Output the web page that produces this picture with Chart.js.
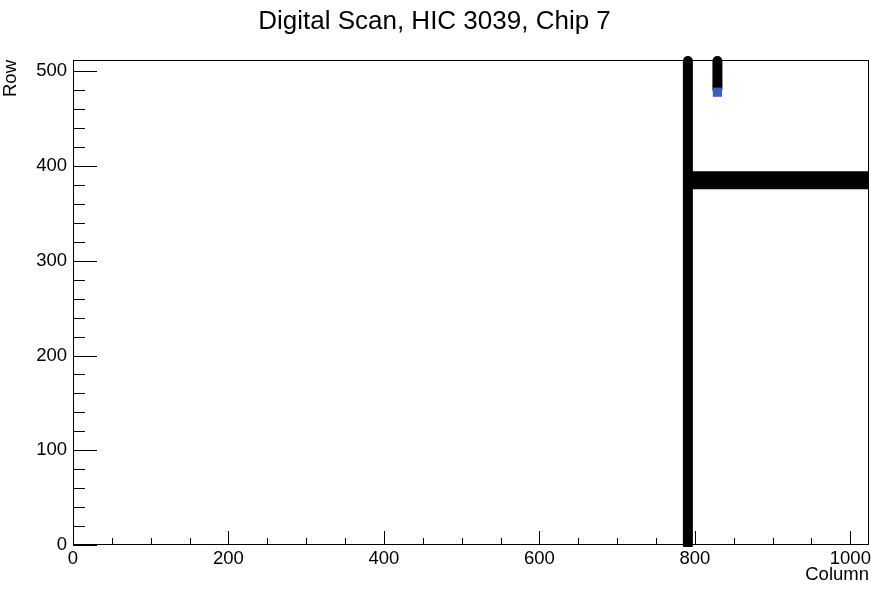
<!DOCTYPE html>
<html>
<head>
<meta charset="utf-8">
<script src="https://cdn.jsdelivr.net/npm/chart.js@4/dist/chart.umd.min.js"></script>
<style>
  html, body { margin: 0; padding: 0; background: #fff; }
  canvas { display: block; }
</style>
</head>
<body>
<canvas id="scan" width="871" height="589"></canvas>
<script>
// Chip geometry
const colRange = [0, 1024];
const rowRange = [0, 512];
const colMajorTicks = [0, 200, 400, 600, 800, 1000];
const rowMajorTicks = [0, 100, 200, 300, 400, 500];

// Hit pixels (runs of firing pixels)
const stuckColumn = [791, 791];        // whole column fires
const stuckColumnRows = [0, 511];
const shortColumn = [829, 829];        // top part of a second column
const shortColumnRows = [481, 511];
const stuckRowCols = [791, 1024];      // band of rows to the right edge
const stuckRow = [385, 385];
const oddPixelCol = [829];             // single pixel with a lower count
const oddPixelRow = [478];

const FONT = '"Liberation Sans", Arial, Helvetica, sans-serif';

function pts(xs, ys) {
    return xs.map((x, i) => ({ x: x, y: ys[i] }));
}

// the last tick label may stick out a bit, like in ROOT, so no extra padding
const noPad = s => { s.getPadding = () => ({ left: 0, right: 0, top: 0, bottom: 0 }); };

// ROOT-style frame with ticks pointing inwards
const frameTicks = {
    id: 'frameTicks',
    beforeDatasetsDraw(chart) {
        const { ctx, chartArea: a, scales } = chart;
        ctx.save();
        ctx.strokeStyle = '#000';
        ctx.lineWidth = 1;
        ctx.strokeRect(a.left + 0.5, a.top + 0.5, a.right - a.left - 1, a.bottom - a.top - 1);
        ctx.beginPath();
        for (let v = 0; v <= 1000; v += 50) {
            const x = Math.round(scales.x.getPixelForValue(v)) + 0.5;
            const len = v % 200 === 0 ? 14 : 7;
            ctx.moveTo(x, a.bottom);
            ctx.lineTo(x, a.bottom - len);
        }
        for (let v = 0; v <= 500; v += 20) {
            const y = Math.round(scales.y.getPixelForValue(v)) + 0.5;
            const len = v % 100 === 0 ? 24 : 12;
            ctx.moveTo(a.left, y);
            ctx.lineTo(a.left + len, y);
        }
        ctx.stroke();
        ctx.restore();
    }
};

new Chart(document.getElementById('scan').getContext('2d'), {
    type: 'scatter',
    plugins: [frameTicks],
    data: {
        datasets: [
            {
                data: pts(oddPixelCol, oddPixelRow),
                pointStyle: 'rect',
                pointRadius: 6.5,
                borderWidth: 0,
                backgroundColor: '#3f5cbf',
                order: 0,
                clip: false
            },
            {
                data: pts(stuckColumn, stuckColumnRows),
                showLine: true,
                borderColor: '#000',
                borderWidth: 10,
                borderCapStyle: 'round',
                pointRadius: 0,
                order: 1,
                clip: { left: false, top: false, right: false, bottom: 2 }
            },
            {
                data: pts(shortColumn, shortColumnRows),
                showLine: true,
                borderColor: '#000',
                borderWidth: 10,
                borderCapStyle: 'round',
                pointRadius: 0,
                order: 1,
                clip: false
            },
            {
                data: pts(stuckRowCols, stuckRow),
                showLine: true,
                borderColor: '#000',
                borderWidth: 18,
                borderCapStyle: 'butt',
                pointRadius: 0,
                order: 1,
                clip: 0
            }
        ]
    },
    options: {
        responsive: false,
        animation: false,
        devicePixelRatio: 1,
        layout: { autoPadding: false, padding: { left: 0, right: 2, top: 0, bottom: 0 } },
        plugins: {
            legend: { display: false },
            tooltip: { enabled: false },
            title: {
                display: true,
                text: 'Digital Scan, HIC 3039, Chip 7',
                color: '#000',
                font: { family: FONT, size: 26, weight: 'normal', lineHeight: 1.2 },
                padding: { top: 6, bottom: 22.8 }
            }
        },
        scales: {
            x: {
                type: 'linear',
                min: colRange[0],
                max: colRange[1],
                afterBuildTicks: s => { s.ticks = colMajorTicks.map(v => ({ value: v })); },
                afterFit: s => { s.height = 44; noPad(s); },
                ticks: {
                    color: '#000',
                    padding: 3,
                    maxRotation: 0,
                    callback: v => String(v),
                    font: { family: FONT, size: 18.5 }
                },
                grid: { display: false, drawTicks: false },
                border: { display: false },
                title: {
                    display: true,
                    text: 'Column',
                    align: 'end',
                    color: '#000',
                    font: { family: FONT, size: 18.5 },
                    padding: { top: 0, bottom: 3 }
                }
            },
            y: {
                type: 'linear',
                min: rowRange[0],
                max: rowRange[1],
                afterBuildTicks: s => { s.ticks = rowMajorTicks.map(v => ({ value: v })); },
                afterFit: s => { s.width = 73; noPad(s); },
                ticks: {
                    color: '#000',
                    padding: 6,
                    callback: v => String(v),
                    font: { family: FONT, size: 18.5 }
                },
                grid: { display: false, drawTicks: false },
                border: { display: false },
                title: {
                    display: true,
                    text: 'Row',
                    align: 'end',
                    color: '#000',
                    font: { family: FONT, size: 18.5 },
                    padding: { top: 0, bottom: 7 }
                }
            }
        }
    }
});
</script>
</body>
</html>
